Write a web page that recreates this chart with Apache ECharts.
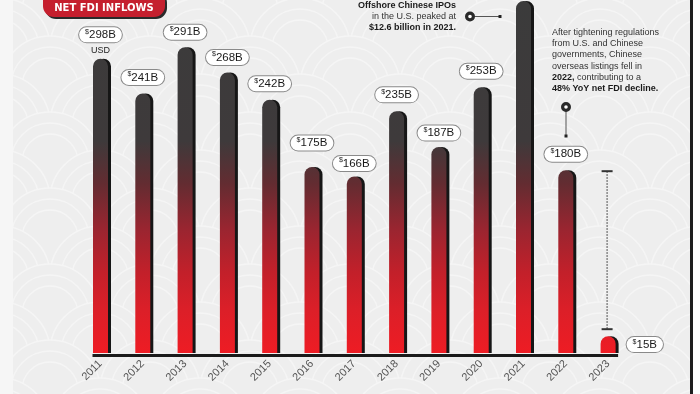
<!DOCTYPE html>
<html><head><meta charset="utf-8">
<script src="https://cdn.jsdelivr.net/npm/echarts@6/dist/echarts.min.js"></script>
<style>html,body{margin:0;padding:0;background:#eeeeee}#c{width:700px;height:394px}</style>
</head><body><div id="c"></div>
<script>
// ---- data ----
const years = ['2011','2012','2013','2014','2015','2016','2017','2018','2019','2020','2021','2022','2023'];
// value labels as printed ($ billions); 2021 has no printed label
const fdiLabels = ['298B','241B','291B','268B','242B','175B','166B','235B','187B','253B','','180B','15B'];
// bar lengths as drawn in the picture ($ billions)
const barHeights = [280,247,291,267,241,177,168,230,196,253,335,174,16];
const noteIPO = ['Offshore Chinese IPOs','in the U.S. peaked at','$12.6 billion in 2021.'];
const noteDecline = ['After tightening regulations','from U.S. and Chinese','governments, Chinese','overseas listings fell in','2022,',' contributing to a','48% YoY net FDI decline.'];

// ---- styling (not data) ----
const labelGap = [16.5,8.5,7.5,7.5,8.5,16.5,5.5,9,6.5,8.5,0,8.5,11];
const FONT = '"Liberation Sans", Arial, sans-serif';
const BG = '#eeeeee';

const chart = echarts.init(document.getElementById('c'), null, {renderer:'canvas'});
const barGrad = {type:'linear', x:0, y:0, x2:0, y2:353, global:true, colorStops:[
  {offset:0, color:'#3b3b3b'},{offset:0.40, color:'#3e3a3b'},{offset:0.52, color:'#632c31'},
  {offset:0.65, color:'#9a2530'},{offset:0.77, color:'#c2202a'},{offset:0.88, color:'#dc1f28'},{offset:1, color:'#ee1c24'}]};

chart.setOption({
  animation:false,
  backgroundColor:BG,
  grid:{left:79.35, right:70.75, top:0, bottom:41},
  xAxis:{type:'category', data:years, axisLine:{show:false}, axisTick:{show:false},
    axisLabel:{rotate:45, color:'#555', fontSize:11, fontFamily:FONT, margin:9}},
  yAxis:{type:'value', min:0, max:336, show:false, splitLine:{show:false}},
  series:[{
    type:'bar', barWidth:15, z:5,
    itemStyle:{color:barGrad, borderRadius:[7.5,7.5,0,0], shadowColor:'#161616', shadowOffsetX:3, shadowOffsetY:0, shadowBlur:0},
    data: barHeights.map((v,i)=>({value:v, label:{
      position: i===12 ? 'right' : 'top', distance: labelGap[i]}})),
    label:{show:true, color:'#1a1a1a', fontFamily:FONT,
      backgroundColor:'#fff', borderColor:'#8a8a8a', borderWidth:1, borderRadius:8, padding:[1,6,1,6],
      formatter: p => fdiLabels[p.dataIndex] ? '{d|$}{v|' + fdiLabels[p.dataIndex] + '}' : '',
      rich:{d:{fontSize:7, verticalAlign:'top', lineHeight:8, fontFamily:FONT, color:'#1a1a1a'},
            v:{fontSize:11.5, lineHeight:13, fontFamily:FONT, color:'#1a1a1a'}}}
  }]
});

function px(i, v){ return chart.convertToPixel({seriesIndex:0}, [years[i], v]); }
const p0 = px(0, 0), p12 = px(12, 0);
const top2011 = px(0, barHeights[0]);
const top2022 = px(11, barHeights[11]);
const top2023 = px(12, barHeights[12]);
const baseY = p0[1] + 2.5;

// faint scalloped background pattern (decorative)
const pattern = [];
const R = 50, rowStep = 38;
for (let r = 0; r * rowStep < 394 + R; r++) {
  const off = (r % 2) ? R : 0;
  for (let cx = -R + off; cx < 700 + R; cx += 2 * R) {
    const cy = r * rowStep + 10;
    pattern.push({type:'circle', z:-5, silent:true, shape:{cx:cx, cy:cy, r:R}, style:{fill:BG, stroke:'#f5f5f5', lineWidth:1.5}});
    pattern.push({type:'circle', z:-5, silent:true, shape:{cx:cx, cy:cy, r:R*0.78}, style:{fill:null, stroke:'#f5f5f5', lineWidth:1.5}});
    pattern.push({type:'circle', z:-5, silent:true, shape:{cx:cx, cy:cy, r:R*0.56}, style:{fill:null, stroke:'#f5f5f5', lineWidth:1.5}});
  }
}

chart.setOption({graphic:[
  {type:'group', z:-5, silent:true, children:pattern},
  {type:'rect', z:-1, shape:{x:0,y:0,width:13,height:394}, style:{fill:'#f6f6f6'}},
  {type:'rect', z:50, shape:{x:693,y:0,width:7,height:394}, style:{fill:'#ffffff'}},
  {type:'line', z:50, shape:{x1:691.5,y1:0,x2:691.5,y2:394}, style:{stroke:'#1e1e1e', lineWidth:3}},
  // baseline
  {type:'line', z:50, shape:{x1:p0[0]-8, y1:baseY, x2:p12[0]+10, y2:baseY}, style:{stroke:'#1a1a1a', lineWidth:3}},
  // title badge
  {type:'rect', z:50, shape:{x:43,y:-10,width:122,height:27,r:11}, style:{fill:'#c51f2e', shadowColor:'#2a2a2a', shadowOffsetX:2, shadowOffsetY:2, shadowBlur:0}},
  {type:'text', z:51, style:{text:'NET FDI INFLOWS', x:104, y:8, align:'center', verticalAlign:'middle', fill:'#fff', font:'bold 10px "DejaVu Sans", sans-serif'}},
  // USD under 2011 label
  {type:'text', z:51, style:{text:'USD', x:top2011[0], y:top2011[1]-8, align:'center', verticalAlign:'middle', fill:'#222', font:'9px '+FONT}},
  // IPO note
  {type:'text', z:51, style:{text:'{b|'+noteIPO[0]+'}\n{r|'+noteIPO[1]+'}\n{b|'+noteIPO[2]+'}', x:456, y:0, align:'right', verticalAlign:'top',
    rich:{b:{fontSize:9, fontWeight:'bold', fontFamily:FONT, fill:'#1a1a1a', lineHeight:11, align:'right'},
          r:{fontSize:9, fontFamily:FONT, fill:'#333', lineHeight:11, align:'right'}}}},
  {type:'line', z:51, shape:{x1:470,y1:16.5,x2:500,y2:16.5}, style:{stroke:'#555', lineWidth:1}},
  {type:'circle', z:52, shape:{cx:470,cy:16.5,r:3.4}, style:{fill:'#fff', stroke:'#2a2a2a', lineWidth:3.2}},
  {type:'rect', z:52, shape:{x:498.5,y:15,width:3,height:3}, style:{fill:'#222'}},
  // decline note
  {type:'text', z:51, style:{text:
    '{r|'+noteDecline[0]+'}\n{r|'+noteDecline[1]+'}\n{r|'+noteDecline[2]+'}\n{r|'+noteDecline[3]+'}\n{b|'+noteDecline[4]+'}{r|'+noteDecline[5]+'}\n{b|'+noteDecline[6]+'}',
    x:552, y:26.5, align:'left', verticalAlign:'top',
    rich:{b:{fontSize:9, fontWeight:'bold', fontFamily:FONT, fill:'#1a1a1a', lineHeight:11.3},
          r:{fontSize:9, fontFamily:FONT, fill:'#333', lineHeight:11.3}}}},
  {type:'line', z:51, shape:{x1:566,y1:107,x2:566,y2:136}, style:{stroke:'#555', lineWidth:1}},
  {type:'circle', z:52, shape:{cx:566,cy:107,r:3.4}, style:{fill:'#fff', stroke:'#2a2a2a', lineWidth:3.2}},
  {type:'rect', z:52, shape:{x:564.5,y:134.5,width:3,height:3}, style:{fill:'#222'}},
  // drop indicator above 2023
  {type:'line', z:51, shape:{x1:top2023[0]-1, y1:top2022[1]+1, x2:top2023[0]-1, y2:top2023[1]-7}, style:{stroke:'#444', lineWidth:1.2, lineDash:[1.5,1.5]}},
  {type:'line', z:51, shape:{x1:top2023[0]-6.5, y1:top2022[1]+1, x2:top2023[0]+4.5, y2:top2022[1]+1}, style:{stroke:'#333', lineWidth:2}},
  {type:'line', z:51, shape:{x1:top2023[0]-6.5, y1:top2023[1]-7, x2:top2023[0]+4.5, y2:top2023[1]-7}, style:{stroke:'#333', lineWidth:2}}
]});
</script></body></html>
